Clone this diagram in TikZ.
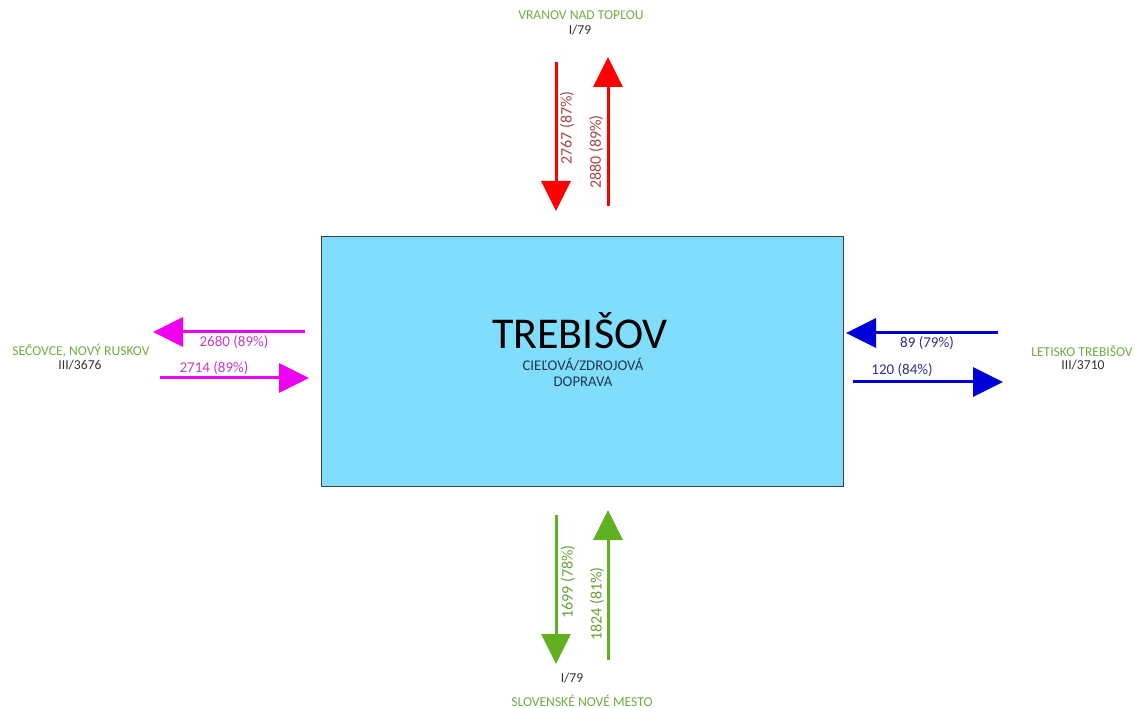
\documentclass[tikz,border=0pt]{standalone}
\usepackage{fontspec}
\setmainfont{Carlito}
\usetikzlibrary{arrows.meta}
\definecolor{boxfill}{HTML}{80DEFC}
\definecolor{placegreen}{HTML}{70AD47}
\definecolor{redarr}{HTML}{FF0000}
\definecolor{redlab}{HTML}{A84444}
\definecolor{magarr}{HTML}{F000F0}
\definecolor{maglab}{HTML}{C040C8}
\definecolor{bluearr}{HTML}{0000D8}
\definecolor{bluelab}{HTML}{303090}
\definecolor{greenarr}{HTML}{60B020}
\definecolor{greenlab}{HTML}{6A9F3A}
\definecolor{subtxt}{HTML}{1F3850}
\tikzset{
  flow/.style={line width=3pt,-{Triangle[length=30pt,width=29pt]}},
  lab/.style={font=\fontsize{15}{17}\selectfont,inner sep=0pt},
  vlab/.style={lab,rotate=90,font=\fontsize{16}{18}\selectfont},
  place/.style={font=\fontsize{13.6}{15}\selectfont,text=placegreen,inner sep=0pt},
  road/.style={font=\fontsize{13.6}{15}\selectfont,text=black!80,inner sep=0pt},
}
\begin{document}
\begin{tikzpicture}[x=1pt,y=-1pt]
\path[use as bounding box,fill=white] (0,0) rectangle (1135,708);
% central box
\node[draw=black!75,line width=1pt,fill=boxfill,minimum width=522pt,minimum height=249pt,inner sep=0pt] (box) at (582,361.5) {};
\node[inner sep=0pt,text depth=0pt,font=\fontsize{44}{48}\selectfont] (title) at (580,330) {TREBIŠOV};
\node[inner sep=0pt,font=\fontsize{14.8}{16.5}\selectfont,text=subtxt,align=center] (sub) at (583,372.5) {CIEĽOVÁ/ZDROJOVÁ\\DOPRAVA};
% coordinates
\coordinate (rdS) at (556,62);  \coordinate (rdE) at (556,211);
\coordinate (ruS) at (608,206); \coordinate (ruE) at (608,57);
\coordinate (gdS) at (556,515); \coordinate (gdE) at (556,664);
\coordinate (guS) at (608,660); \coordinate (guE) at (608,510);
\coordinate (mlS) at (305,332); \coordinate (mlE) at (153,332);
\coordinate (mrS) at (160,378); \coordinate (mrE) at (309,378);
\coordinate (blS) at (998,333); \coordinate (blE) at (846,333);
\coordinate (brS) at (853,382); \coordinate (brE) at (1003,382);
% arrows
\draw[flow,redarr] (rdS) -- (rdE);
\draw[flow,redarr] (ruS) -- (ruE);
\draw[flow,greenarr] (gdS) -- (gdE);
\draw[flow,greenarr] (guS) -- (guE);
\draw[flow,magarr] (mlS) -- (mlE);
\draw[flow,magarr] (mrS) -- (mrE);
\draw[flow,bluearr] (blS) -- (blE);
\draw[flow,bluearr] (brS) -- (brE);
% arrow labels
\node[vlab,text=redlab] (l1) at (567,128) {2767 (87\%)};
\node[vlab,text=redlab] (l2) at (596,152) {2880 (89\%)};
\node[vlab,text=greenlab] (l3) at (568,582) {1699 (78\%)};
\node[vlab,text=greenlab] (l4) at (597,604) {1824 (81\%)};
\node[lab,text=maglab] (l5) at (234,342) {2680 (89\%)};
\node[lab,text=maglab] (l6) at (214,368) {2714 (89\%)};
\node[lab,text=bluelab] (l7) at (927,343) {89 (79\%)};
\node[lab,text=bluelab] (l8) at (902,370) {120 (84\%)};
% place names
\node[place] (p1) at (581,15) {VRANOV NAD TOPĽOU};
\node[road] (r1) at (580,30) {I/79};
\node[road] (r2) at (572,678) {I/79};
\node[place] (p2) at (582,701) {SLOVENSKÉ NOVÉ MESTO};
\node[place] (p3) at (81,351) {SEČOVCE, NOVÝ RUSKOV};
\node[road] (r3) at (80,365) {III/3676};
\node[place] (p4) at (1082,351) {LETISKO TREBIŠOV};
\node[road] (r4) at (1083,365) {III/3710};
\end{tikzpicture}
\end{document}
